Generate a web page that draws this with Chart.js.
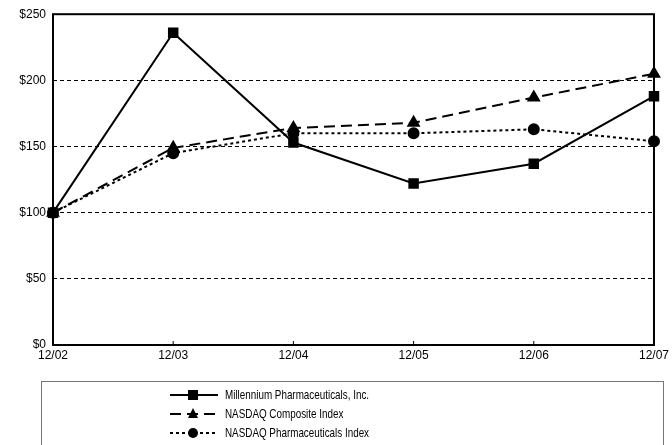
<!DOCTYPE html>
<html>
<head>
<meta charset="utf-8">
<script src="https://cdn.jsdelivr.net/npm/chart.js@4/dist/chart.umd.min.js"></script>
<style>
  html, body { margin: 0; padding: 0; background: #fff; }
  #wrap { width: 672px; height: 445px; position: relative; }
</style>
</head>
<body>
<div id="wrap"><canvas id="perf-chart" width="672" height="445"></canvas></div>
<script>
// data
const periods = ['12/02', '12/03', '12/04', '12/05', '12/06', '12/07'];
const millennium = [100, 236, 153, 122, 137, 188];
const nasdaqComposite = [100, 149, 164, 168, 187, 205];
const nasdaqPharma = [100, 145, 160, 160, 163, 154];
const seriesNames = ['Millennium Pharmaceuticals, Inc.', 'NASDAQ Composite Index', 'NASDAQ Pharmaceuticals Index'];
const yTicks = [0, 50, 100, 150, 200, 250];

const FONT = '"Liberation Sans", Arial, sans-serif';

// frame, inner x ticks and the boxed legend under the chart
const decorations = {
    id: 'decorations',
    afterDatasetsDraw(chart) {
        const { ctx, chartArea: a, scales } = chart;
        ctx.save();
        ctx.strokeStyle = '#000';
        ctx.lineWidth = 2;
        ctx.setLineDash([]);
        ctx.strokeRect(a.left, a.top, a.right - a.left, a.bottom - a.top);

        // little tick marks pointing up into the plot
        ctx.lineWidth = 1;
        scales.x.ticks.forEach((t, i) => {
            const x = scales.x.getPixelForTick(i);
            ctx.beginPath();
            ctx.moveTo(x, a.bottom);
            ctx.lineTo(x, a.bottom - 4);
            ctx.stroke();
        });

        // legend box
        ctx.strokeStyle = '#777';
        ctx.lineWidth = 1;
        ctx.strokeRect(41.5, 381.5, 622, 70);

        chart.data.datasets.forEach((ds, i) => {
            const y = 395 + i * 19;
            ctx.strokeStyle = '#000';
            ctx.lineWidth = 2;
            ctx.setLineDash(ds.borderDash || []);
            ctx.beginPath();
            ctx.moveTo(170, y);
            ctx.lineTo(218, y);
            ctx.stroke();
            ctx.setLineDash([]);
            ctx.fillStyle = '#000';
            const mx = 193;
            if (ds.pointStyle === 'rect') {
                ctx.fillRect(mx - 5, y - 5, 10, 10);
            } else if (ds.pointStyle === 'triangle') {
                ctx.beginPath();
                ctx.moveTo(mx, y - 6);
                ctx.lineTo(mx + 5, y + 4);
                ctx.lineTo(mx - 5, y + 4);
                ctx.closePath();
                ctx.fill();
            } else {
                ctx.beginPath();
                ctx.arc(mx, y, 5, 0, Math.PI * 2);
                ctx.fill();
            }
            // the original type is a narrow sans, so squeeze it sideways
            ctx.save();
            ctx.translate(225, y + 0.5);
            ctx.scale(0.73, 1);
            ctx.font = '13.5px ' + FONT;
            ctx.textBaseline = 'middle';
            ctx.textAlign = 'left';
            ctx.fillText(ds.label, 0, 0);
            ctx.restore();
        });
        ctx.restore();
    }
};

const ctx = document.getElementById('perf-chart').getContext('2d');
new Chart(ctx, {
    type: 'line',
    data: {
        labels: periods,
        datasets: [
            {
                label: seriesNames[0],
                data: millennium,
                borderColor: '#000',
                backgroundColor: '#000',
                borderWidth: 2,
                pointStyle: 'rect',
                pointRadius: 6,
                tension: 0
            },
            {
                label: seriesNames[1],
                data: nasdaqComposite,
                borderColor: '#000',
                backgroundColor: '#000',
                borderWidth: 2,
                borderDash: [11, 6],
                pointStyle: 'triangle',
                pointRadius: 6,
                tension: 0
            },
            {
                label: seriesNames[2],
                data: nasdaqPharma,
                borderColor: '#000',
                backgroundColor: '#000',
                borderWidth: 2,
                borderDash: [3, 3],
                pointStyle: 'circle',
                pointRadius: 5,
                tension: 0
            }
        ]
    },
    options: {
        responsive: false,
        animation: false,
        layout: { padding: { top: 13, right: 17, bottom: 80, left: 0 } },
        plugins: {
            legend: { display: false },
            tooltip: { enabled: false }
        },
        scales: {
            x: {
                offset: false,
                grid: { display: false, drawTicks: false },
                border: { display: false },
                ticks: {
                    color: '#000',
                    font: { family: FONT, size: 12 },
                    padding: 3,
                    maxRotation: 0,
                    autoSkip: false
                },
                afterFit(scale) { scale.height = 20; }
            },
            y: {
                min: 0,
                max: 250,
                afterBuildTicks(scale) { scale.ticks = yTicks.map(v => ({ value: v })); },
                grid: {
                    color: (c) => (c.tick.value === 0 || c.tick.value === 250) ? 'rgba(0,0,0,0)' : '#000',
                    lineWidth: 1,
                    drawTicks: false
                },
                border: { display: false, dash: [4, 3] },
                ticks: {
                    color: '#000',
                    font: { family: FONT, size: 12 },
                    padding: 7,
                    callback: (v) => '$' + v
                },
                afterFit(scale) { scale.width = 53; }
            }
        }
    },
    plugins: [decorations]
});
</script>
</body>
</html>
